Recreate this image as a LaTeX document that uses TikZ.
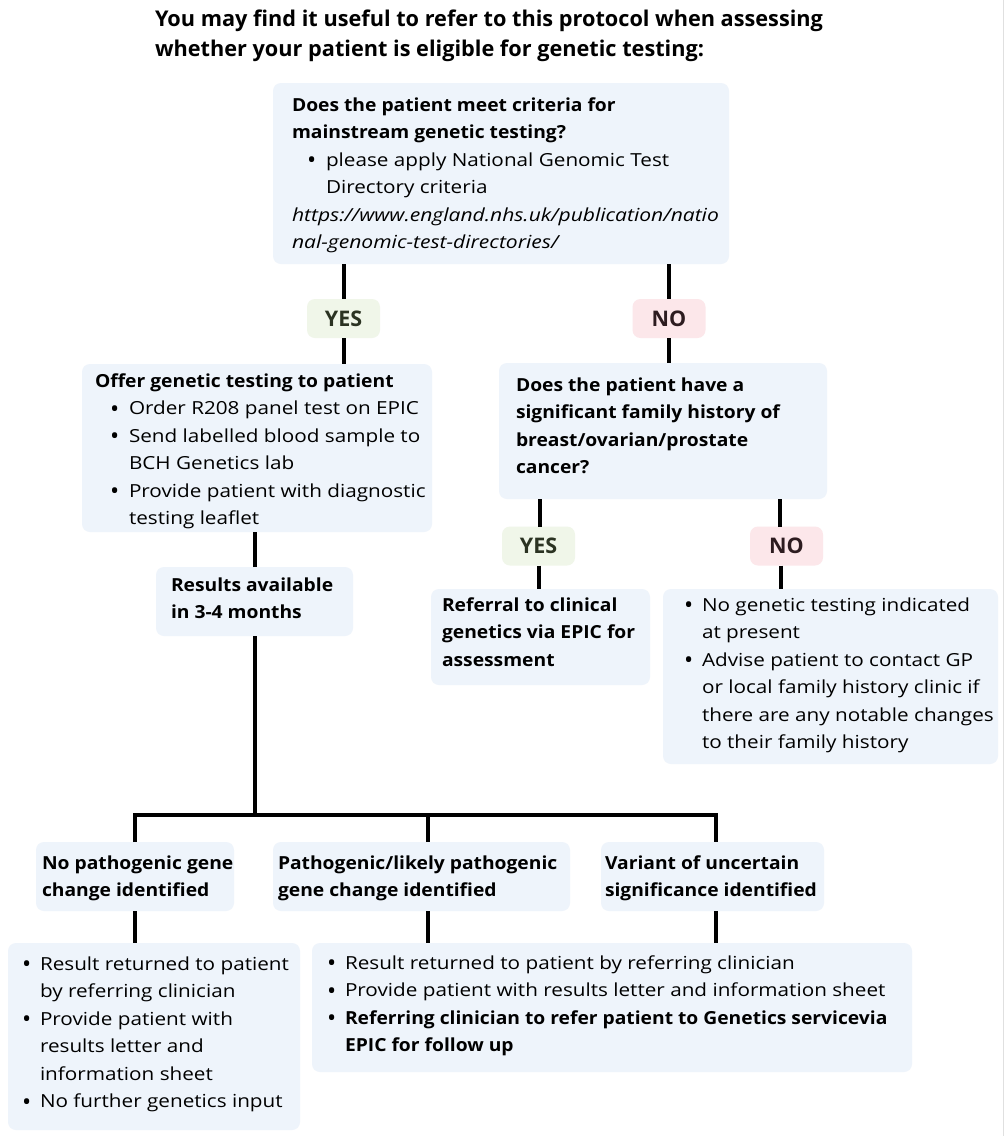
\documentclass[tikz,border=0pt]{standalone}
\usepackage{fontspec}
\usepackage{graphicx}
\setmainfont{Open Sans}[UprightFeatures={FakeStretch=1.15}, BoldFeatures={FakeStretch=1.07}, ItalicFeatures={FakeStretch=1.17}]
\newfontfamily\tfont{Open Sans}
\definecolor{boxblue}{HTML}{EEF4FB}
\definecolor{yesfill}{HTML}{F0F6E9}
\definecolor{yestext}{HTML}{2B3322}
\definecolor{nofill}{HTML}{FCE7EA}
\definecolor{notext}{HTML}{2D1C20}
\newcommand{\mybul}{\raisebox{-2.6pt}{\scalebox{1.35}{\tfont\textbullet}}}
\newcommand{\bulA}{\hspace*{15pt}\makebox[19pt][l]{\mybul}}
\newcommand{\contA}{\hspace*{34pt}}
\newcommand{\bulB}{\makebox[18pt][l]{\mybul}}
\newcommand{\contB}{\hspace*{18pt}}
\begin{document}
\begin{tikzpicture}[x=1pt,y=-1pt,
  box/.style={fill=boxblue, rounded corners=8pt, draw=none, inner sep=0pt, outer sep=0pt, anchor=north west},
  txt/.style={anchor=north west, inner sep=0pt, outer sep=0pt, align=left, font=\fontsize{18}{27.5}\selectfont, yshift=19.25pt},
  btxt/.style={txt, font=\fontsize{18}{27.5}\selectfont\bfseries},
  ttl/.style={anchor=north west, inner sep=0pt, outer sep=0pt, align=left, font=\fontsize{21.7}{30}\tfont\bfseries, yshift=21pt},
  lab/.style={rounded corners=8pt, minimum width=73pt, minimum height=39pt, inner sep=0pt, outer sep=0pt, font=\fontsize{21.5}{24}\tfont\bfseries},
  yeslab/.style={lab, fill=yesfill, text=yestext},
  nolab/.style={lab, fill=nofill, text=notext},
  conn/.style={line width=4pt, black}
]
\fill[white] (0,0) rectangle (1004,1136);
\useasboundingbox (0,0) rectangle (1004,1136);
\draw[black!12, line width=1pt] (1003,0) -- (1003,1136);

% title
\node[ttl] (title) at (155,26) {\strut You may find it useful to refer to this protocol when assessing\\whether your patient is eligible for genetic testing:};

% boxes
\node[box, minimum width=456pt, minimum height=181pt] (b1) at (273,83) {};
\node[box, minimum width=350pt, minimum height=168pt] (b2) at (82,364) {};
\node[box, minimum width=328pt, minimum height=136pt] (b3) at (499,363) {};
\node[box, minimum width=197pt, minimum height=69pt] (res) at (156,567) {};
\node[box, minimum width=219pt, minimum height=96pt] (ref) at (431,589) {};
\node[box, minimum width=335pt, minimum height=175pt] (nob) at (663,589) {};
\node[box, minimum width=198pt, minimum height=69pt] (c1) at (36,842) {};
\node[box, minimum width=297pt, minimum height=69pt] (c2) at (273,842) {};
\node[box, minimum width=223pt, minimum height=69pt] (c3) at (601,842) {};
\node[box, minimum width=292pt, minimum height=187pt] (d1) at (8,943) {};
\node[box, minimum width=600pt, minimum height=129pt] (d2) at (312,943) {};

% texts
\node[txt] (b1t) at (292,111) {\strut\textbf{Does the patient meet criteria for}\\
\textbf{mainstream genetic testing?}\\
\bulA please apply National Genomic Test\\
\contA Directory criteria\\
\textit{https://www.england.nhs.uk/publication/natio}\\
\textit{nal-genomic-test-directories/}};

\node[txt] (b2t) at (95,387) {\strut\textbf{Offer genetic testing to patient}\\
\bulA Order R208 panel test on EPIC\\
\bulA Send labelled blood sample to\\
\contA BCH Genetics lab\\
\bulA Provide patient with diagnostic\\
\contA testing leaflet};

\node[btxt] (b3t) at (516,391) {\strut Does the patient have a\\
significant family history of\\
breast/ovarian/prostate\\
cancer?};

\node[btxt] (rest) at (171,591) {\strut Results available\\in 3-4 months};

\node[btxt] (reft) at (442,611) {\strut Referral to clinical\\genetics via EPIC for\\assessment};

\node[txt] (nobt) at (684,611) {\strut\bulB No genetic testing indicated\\
\contB at present\\
\bulB Advise patient to contact GP\\
\contB or local family history clinic if\\
\contB there are any notable changes\\
\contB to their family history};

\node[btxt] (c1t) at (42,869) {\strut No pathogenic gene\\change identified};
\node[btxt] (c2t) at (278,869) {\strut Pathogenic/likely pathogenic\\gene change identified};
\node[btxt] (c3t) at (605,869) {\strut Variant of uncertain\\significance identified};

\node[txt] (d1t) at (22,970) {\strut\bulB Result returned to patient\\
\contB by referring clinician\\
\bulB Provide patient with\\
\contB results letter and\\
\contB information sheet\\
\bulB No further genetics input};

\node[txt] (d2t) at (327,969) {\strut\bulB Result returned to patient by referring clinician\\
\bulB Provide patient with results letter and information sheet\\
\bulB\textbf{Referring clinician to refer patient to Genetics servicevia}\\
\contB\textbf{EPIC for follow up}};

% labels
\node[yeslab] (yes1) at (343.5,318.5) {YES};
\node[nolab] (no1) at (669,318.5) {NO};
\node[yeslab] (yes2) at (538.5,546) {YES};
\node[nolab] (no2) at (786.5,546) {NO};

% connectors
\draw[conn] (b1.south -| yes1) -- (yes1.north);
\draw[conn] (yes1.south) -- (yes1.south |- b2.north);
\draw[conn] (b1.south -| no1) -- (no1.north);
\draw[conn] (no1.south) -- (no1.south |- b3.north);
\draw[conn] ([xshift=1.5pt]b3.south -| yes2) -- ([xshift=1.5pt]yes2.north);
\draw[conn] (yes2.south) -- (yes2.south |- ref.north);
\draw[conn] ([xshift=-6.5pt]b3.south -| no2) -- ([xshift=-6.5pt]no2.north);
\draw[conn] ([xshift=-5.5pt]no2.south) -- ([xshift=-5.5pt]no2.south |- nob.north);
\draw[conn] (res.north) -- (res.north |- b2.south);

\coordinate (j1) at (135,815);
\coordinate (j2) at (428,815);
\coordinate (j3) at (716,815);
\draw[conn] (res.south) -- (res.south |- j1);
\draw[conn] (j1 |- c1.north) -- (j1) -- (j3) -- (j3 |- c3.north);
\draw[conn] (j2) -- (j2 |- c2.north);
\draw[conn] (c1.south -| j1) -- (j1 |- d1.north);
\draw[conn] (c2.south -| j2) -- (j2 |- d2.north);
\draw[conn] (c3.south -| j3) -- (j3 |- d2.north);
\end{tikzpicture}
\end{document}
